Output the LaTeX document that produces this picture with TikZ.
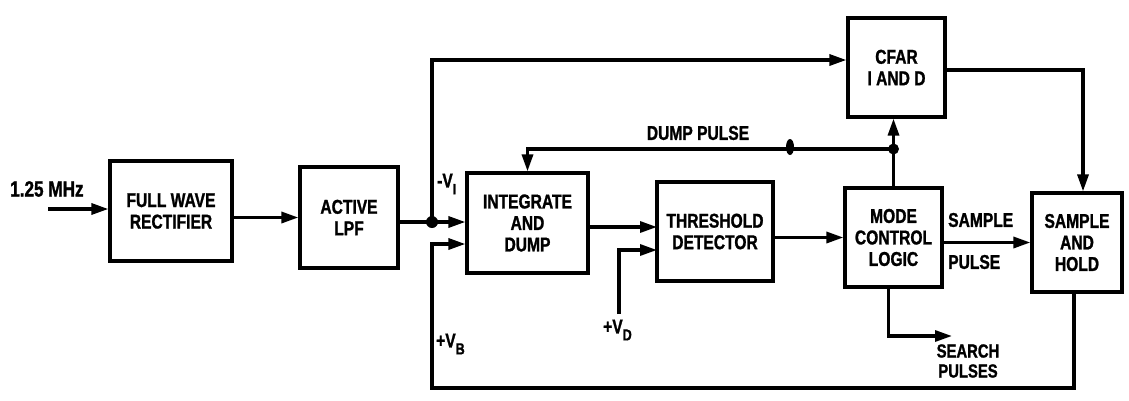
\documentclass[tikz,border=0pt]{standalone}
\usepackage{fontspec}
\setmainfont{Liberation Sans}[FakeStretch=0.78, BoldFeatures={FakeBold=1.2}]
\usetikzlibrary{arrows.meta}
\begin{document}
\begin{tikzpicture}[x=1pt,y=-1pt,
  box/.style={draw, line width=3.2pt, inner sep=0pt, align=center,
    font=\bfseries\fontsize{20}{21.5}\selectfont},
  lbl/.style={inner sep=0pt, align=center, font=\bfseries\fontsize{20}{20}\selectfont},
  wire/.style={line width=3.2pt},
  arr/.style={wire, -{Triangle[length=17pt,width=11pt]}},
  dot/.style={fill=black}]
\useasboundingbox[fill=white] (0,0) rectangle (1129,400);

% blocks
\node[box, minimum width=122, minimum height=100] (fwr) at (171,211) {FULL WAVE\\RECTIFIER};
\node[box, minimum width=98, minimum height=101] (lpf) at (349,217.5) {ACTIVE\\LPF};
\node[box, minimum width=121, minimum height=100] (iad) at (527.5,223) {INTEGRATE\\AND\\DUMP};
\node[box, minimum width=116, minimum height=99] (thr) at (715,231.5) {THRESHOLD\\DETECTOR};
\node[box, minimum width=97, minimum height=99] (mcl) at (893.5,237.5) {MODE\\CONTROL\\LOGIC};
\node[box, minimum width=97, minimum height=99] (cfar) at (896.5,67.5) {CFAR\\I AND D};
\node[box, minimum width=90, minimum height=99] (sh) at (1077,242.5) {SAMPLE\\AND\\HOLD};

% coordinates
\coordinate (in) at (48,209);
\coordinate (j1) at (432,222);
\coordinate (ctop) at (432,60);
\coordinate (vb) at (432,244);
\coordinate (bot) at (1074,388);
\coordinate (t1) at (657,227);
\coordinate (t2) at (657,250);
\coordinate (vd) at (619,314);
\coordinate (j2) at (893.5,149);
\coordinate (ov) at (790,147);
\coordinate (sp) at (952,336);
\coordinate (cr) at (1083,70);

% connectors
\draw[arr] (in) -- (in -| fwr.west);
\draw[arr] (fwr.east |- lpf.west) -- (lpf.west);
\draw[wire] (lpf.east |- j1) -- (j1);
\draw[arr] (j1) -- (j1 -| iad.west);
\draw[arr] (j1) -- (ctop) -- (ctop -| cfar.west);
\draw[arr] (sh.south -| bot) -- (bot) -| (vb) -- (vb -| iad.west);
\draw[arr] (t1 -| iad.east) -- (t1);
\draw[arr] (vd) |- (t2);
\draw[arr] (thr.east |- mcl.west) -- (mcl.west);
\draw[arr] (mcl.east |- sh.west) -- (sh.west);
\draw[wire] (mcl.north) -- (j2);
\draw[arr] (j2) -- (j2 |- cfar.south);
\draw[arr] (j2) -| (iad.north);
\draw[arr] (cfar.east |- cr) -- (cr) -- (cr |- sh.north);
\draw[arr] ([xshift=-5pt]mcl.south) |- (sp);

% dots
\fill[dot] (j1) circle (6pt);
\fill[dot] (j2) circle (5.5pt);
\fill[dot] (ov) ellipse (4pt and 8pt);

% labels
\node[lbl, anchor=west, font=\bfseries\fontsize{22}{22}\selectfont] (mhz) at (10,189) {1.25 MHz};
\node[lbl, anchor=west] (vi) at (437,184) {-V\raisebox{-7pt}{\fontsize{15}{15}\selectfont I}};
\node[lbl, anchor=west] (vbl) at (436,344) {+V\raisebox{-7pt}{\fontsize{16}{16}\selectfont B}};
\node[lbl, anchor=west] (vdl) at (603,330) {+V\raisebox{-7pt}{\fontsize{16}{16}\selectfont D}};
\node[lbl] (dp) at (698,133) {DUMP PULSE};
\node[lbl, anchor=west] (spl) at (948,220) {SAMPLE};
\node[lbl, anchor=west] (ppl) at (948,262) {PULSE};
\node[lbl, font=\bfseries\fontsize{19}{20}\selectfont] (srch) at (968,361) {SEARCH\\PULSES};
\end{tikzpicture}
\end{document}
